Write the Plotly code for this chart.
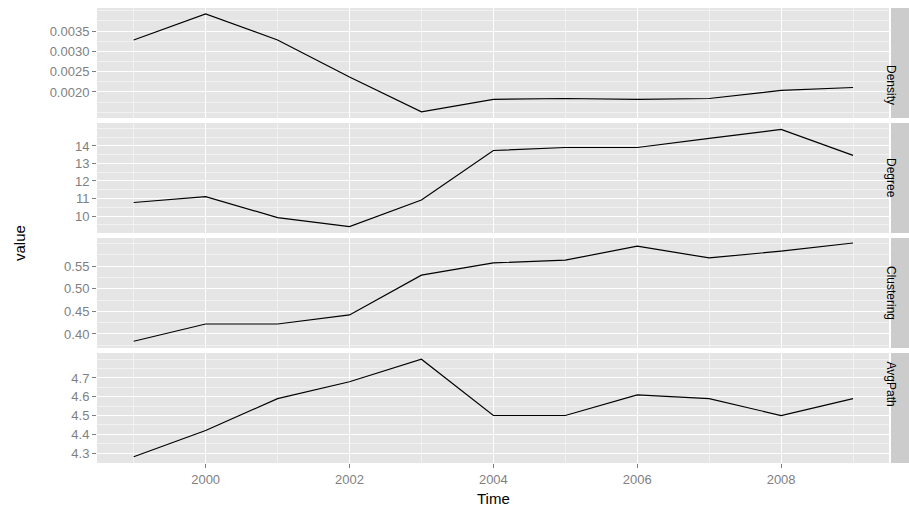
import plotly.graph_objects as go

years = list(range(1999, 2010))
density = [0.00328, 0.00392, 0.00328, 0.00237, 0.00151, 0.00182, 0.00184, 0.00182, 0.00184, 0.00204, 0.00211]
degree = [10.77, 11.11, 9.91, 9.40, 10.91, 13.74, 13.91, 13.91, 14.43, 14.94, 13.46]
clustering = [0.384, 0.422, 0.422, 0.442, 0.530, 0.557, 0.563, 0.594, 0.568, 0.583, 0.601]
avgpath = [4.28, 4.42, 4.59, 4.68, 4.80, 4.50, 4.50, 4.61, 4.59, 4.50, 4.59]

names = ["Density", "Degree", "Clustering", "AvgPath"]
series = [density, degree, clustering, avgpath]
ranges = [[0.00136, 0.004067], [9.03, 15.31], [0.369, 0.612], [4.247, 4.833]]
ticks = [[0.0020, 0.0025, 0.0030, 0.0035], [10, 11, 12, 13, 14],
         [0.40, 0.45, 0.50, 0.55], [4.3, 4.4, 4.5, 4.6, 4.7]]
ticktext = [["0.0020", "0.0025", "0.0030", "0.0035"], ["10", "11", "12", "13", "14"],
            ["0.40", "0.45", "0.50", "0.55"], ["4.3", "4.4", "4.5", "4.6", "4.7"]]

W, H = 909, 516
panel_px = [(8, 118), (123, 233), (238, 348), (353, 463)]
PL, PR = 97, 889
FONT = "Liberation Sans, Arial"

fig = go.Figure()
shapes, annotations = [], []
for i, (nm, s) in enumerate(zip(names, series)):
    k = i + 1
    sx = f"x{k}" if k > 1 else "x"
    sy = f"y{k}" if k > 1 else "y"
    fig.add_trace(go.Scatter(x=years, y=s, mode="lines", line=dict(color="black", width=1.2),
                             xaxis=sx, yaxis=sy, showlegend=False))
    top, bot = panel_px[i]
    dom = [(H - bot) / H, (H - top) / H]
    ax = dict(domain=dom, range=ranges[i], tickvals=ticks[i], ticktext=ticktext[i],
              gridcolor="white", gridwidth=1.2, zeroline=False, showline=False,
              ticks="outside", ticklen=4, tickcolor="#7f7f7f", automargin=False,
              tickfont=dict(family=FONT, size=13, color="#7f7f7f"),
              minor=dict(dtick=(ticks[i][1] - ticks[i][0]) / 2, tick0=ticks[i][0],
                         gridcolor="#f2f2f2", gridwidth=0.8, showgrid=True),
              anchor=sx)
    xa = dict(domain=[PL / W, PR / W], range=[1998.49, 2009.5], tickvals=[2000, 2002, 2004, 2006, 2008],
              gridcolor="white", gridwidth=1.2, zeroline=False, showline=False, automargin=False,
              minor=dict(dtick=1, tick0=1999, gridcolor="#f2f2f2", gridwidth=0.8, showgrid=True),
              showticklabels=(k == 4), ticks="outside" if k == 4 else "", ticklen=4, tickcolor="#7f7f7f",
              tickfont=dict(family=FONT, size=13, color="#7f7f7f"),
              anchor=sy)
    if k > 1:
        xa["matches"] = "x"
    fig.layout[f"yaxis{k}" if k > 1 else "yaxis"] = ax
    fig.layout[f"xaxis{k}" if k > 1 else "xaxis"] = xa
    shapes.append(dict(type="rect", xref="paper", yref="paper", x0=891 / W, x1=909 / W,
                       y0=dom[0], y1=dom[1], fillcolor="#cccccc", line=dict(width=0)))
    annotations.append(dict(text=nm, xref="paper", yref="paper", x=900 / W, y=(dom[0] + dom[1]) / 2,
                            showarrow=False, textangle=90, font=dict(family=FONT, size=12, color="black")))

annotations.append(dict(text="value", xref="paper", yref="paper", x=20 / W, y=(H - 243) / H,
                        xanchor="center", yanchor="middle", showarrow=False, textangle=-90,
                        font=dict(family=FONT, size=15, color="black")))
annotations.append(dict(text="Time", xref="paper", yref="paper", x=(PL + PR) / 2 / W, y=(H - 499) / H,
                        xanchor="center", yanchor="middle", showarrow=False,
                        font=dict(family=FONT, size=15, color="black")))

fig.update_layout(width=W, height=H, margin=dict(l=0, r=0, t=0, b=0, autoexpand=False),
                  plot_bgcolor="#e5e5e5", paper_bgcolor="white", shapes=shapes, annotations=annotations)
fig.write_html("out.html", config={"displayModeBar": False},
               post_script="document.body.style.margin='0';document.body.style.overflow='hidden';")
